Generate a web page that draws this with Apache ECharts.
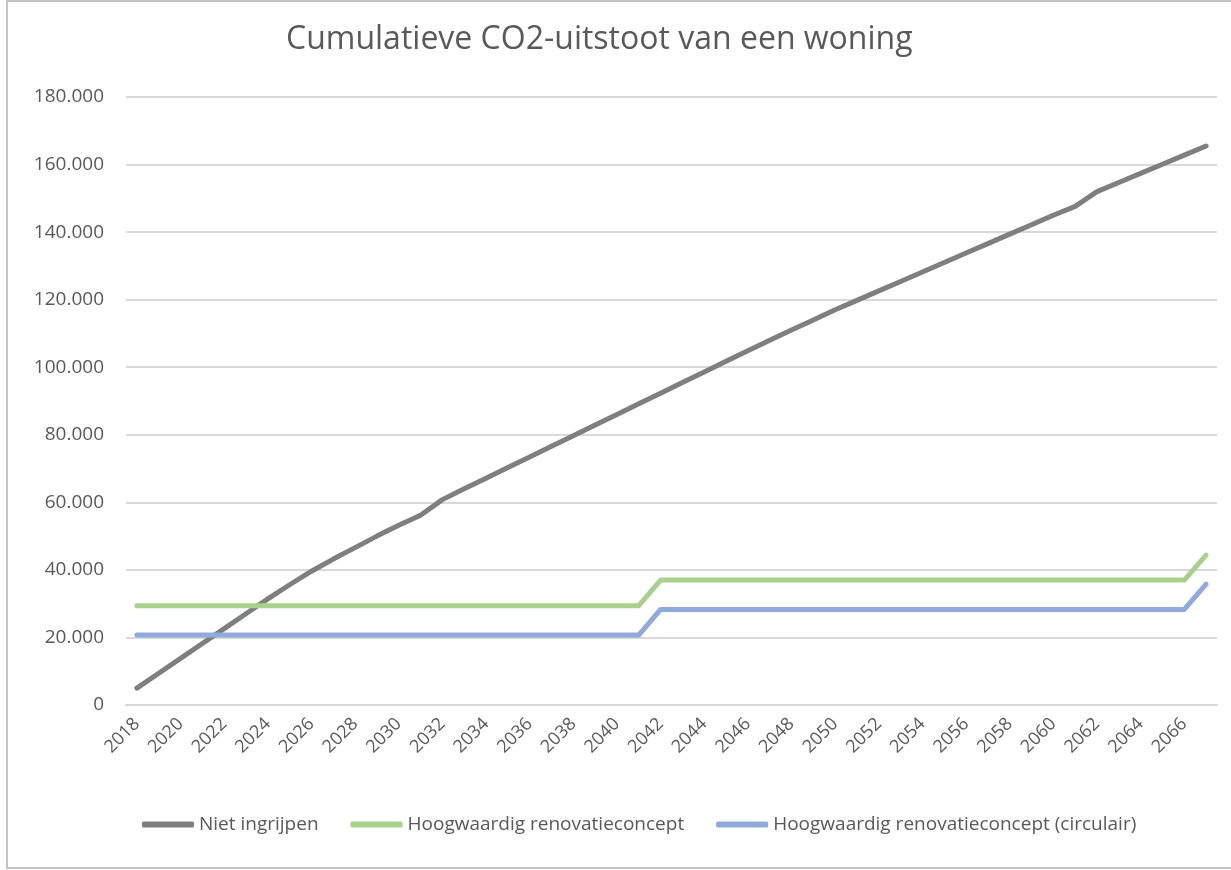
<!DOCTYPE html>
<html>
<head>
<meta charset="utf-8">
<script src="https://cdn.jsdelivr.net/npm/echarts@6/dist/echarts.min.js"></script>
<style>
  html, body { margin: 0; padding: 0; background: #fff; }
  #chart { width: 1231px; height: 870px; }
</style>
</head>
<body>
<div id="chart"></div>
<script>
// jaren op de x-as
const years = []
for (let y = 2018; y <= 2067; y++) years.push(String(y))

// cumulatieve CO2-uitstoot (kg)
const nietIngrijpen = [
  5000, 9400, 13800, 18200, 22600, 27000, 31400, 35600, 39600, 43200,
  46600, 50000, 53200, 56200, 60800, 64000, 67100, 70300, 73400, 76600,
  79700, 82900, 86000, 89200, 92300, 95500, 98600, 101800, 104900, 108000,
  111000, 114000, 117000, 119800, 122600, 125400, 128200, 131000, 133800, 136600,
  139400, 142200, 145000, 147600, 152000, 154700, 157400, 160100, 162800, 165500
]
const renovatie = [
  29400, 29400, 29400, 29400, 29400, 29400, 29400, 29400, 29400, 29400,
  29400, 29400, 29400, 29400, 29400, 29400, 29400, 29400, 29400, 29400,
  29400, 29400, 29400, 29400, 37000, 37000, 37000, 37000, 37000, 37000,
  37000, 37000, 37000, 37000, 37000, 37000, 37000, 37000, 37000, 37000,
  37000, 37000, 37000, 37000, 37000, 37000, 37000, 37000, 37000, 44400
]
const renovatieCirculair = [
  20700, 20700, 20700, 20700, 20700, 20700, 20700, 20700, 20700, 20700,
  20700, 20700, 20700, 20700, 20700, 20700, 20700, 20700, 20700, 20700,
  20700, 20700, 20700, 20700, 28300, 28300, 28300, 28300, 28300, 28300,
  28300, 28300, 28300, 28300, 28300, 28300, 28300, 28300, 28300, 28300,
  28300, 28300, 28300, 28300, 28300, 28300, 28300, 28300, 28300, 35800
]

const fmt = v => v === 0 ? '0' : v.toLocaleString('de-DE')

const chart = echarts.init(document.getElementById('chart'))

const lineSeries = (name, data, color) => ({
  name,
  type: 'line',
  data,
  showSymbol: false,
  symbol: 'none',
  lineStyle: { color, width: 5, cap: 'round', join: 'round' },
  itemStyle: { color },
  emphasis: { disabled: true }
})

chart.setOption({
  animation: false,
  textStyle: { fontFamily: '"Open Sans", sans-serif' },
  graphic: [{
    type: 'rect',
    shape: { x: 7, y: 1, width: 1240, height: 867 },
    style: { fill: 'none', stroke: '#c4c4c4', lineWidth: 2 },
    silent: true
  }],
  title: {
    text: 'Cumulatieve CO2-uitstoot van een woning',
    left: 281,
    top: 19,
    textStyle: { fontSize: 32, fontWeight: 'normal', color: '#595959', fontFamily: '"Open Sans", sans-serif' }
  },
  legend: {
    bottom: 31,
    left: 137,
    itemWidth: 52,
    itemHeight: 6,
    itemGap: 32,
    icon: 'roundRect',
    textStyle: { fontSize: 19, color: '#595959' },
    data: ['Niet ingrijpen', 'Hoogwaardig renovatieconcept', 'Hoogwaardig renovatieconcept (circulair)']
  },
  grid: { left: 126, right: 14, top: 97, bottom: 165 },
  xAxis: {
    type: 'category',
    data: years,
    boundaryGap: true,
    axisLine: { lineStyle: { color: '#d9d9d9', width: 2 } },
    axisTick: { show: false },
    axisLabel: { interval: 1, rotate: 45, margin: 16, fontSize: 18, color: '#595959' }
  },
  yAxis: {
    type: 'value',
    min: 0,
    max: 180000,
    interval: 20000,
    axisLine: { show: false },
    axisTick: { show: false },
    splitLine: { lineStyle: { color: '#d9d9d9', width: 2 } },
    axisLabel: { formatter: fmt, fontSize: 19, color: '#595959', margin: 22 }
  },
  series: [
    lineSeries('Niet ingrijpen', nietIngrijpen, '#7f7f7f'),
    lineSeries('Hoogwaardig renovatieconcept', renovatie, '#a9d18e'),
    lineSeries('Hoogwaardig renovatieconcept (circulair)', renovatieCirculair, '#8faadc')
  ]
})
</script>
</body>
</html>
